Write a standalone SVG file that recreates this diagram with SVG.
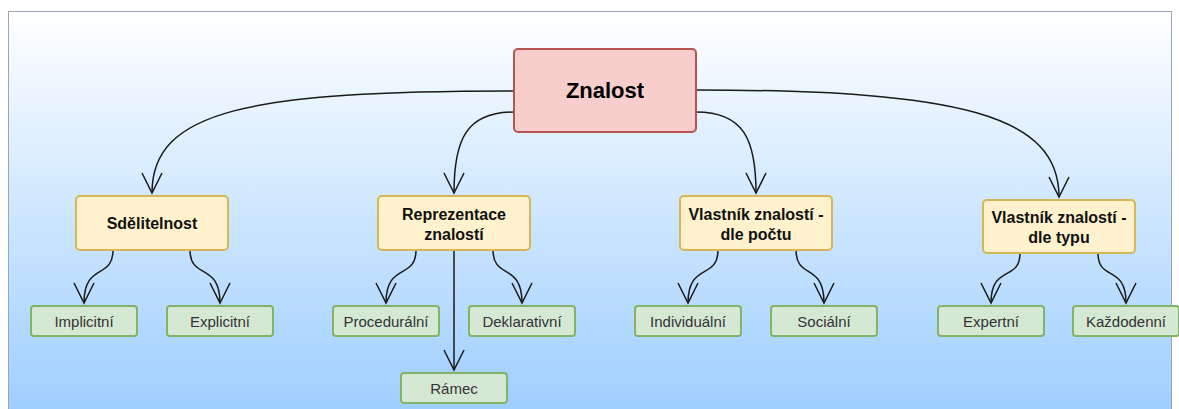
<svg xmlns="http://www.w3.org/2000/svg" width="1179" height="409" viewBox="0 0 1179 409">
  <defs>
    <linearGradient id="bg" x1="0" y1="0" x2="0" y2="1">
      <stop offset="0" stop-color="#ffffff"/>
      <stop offset="1" stop-color="#99ccff"/>
    </linearGradient>
    <marker id="open" markerUnits="userSpaceOnUse" markerWidth="22" markerHeight="22" viewBox="0 0 22 22" refX="21" refY="11" orient="auto" overflow="visible">
      <path d="M1,1 L21,11 L1,21" fill="none" stroke="#1a1a1a" stroke-width="1.5" stroke-linejoin="miter"/>
    </marker>
    <style>
      .root rect { fill: #f8cecc; stroke: #b85450; stroke-width: 2; }
      .mid rect { fill: #fff2cc; stroke: #d6b656; stroke-width: 2; }
      .leaf rect { fill: #d5e8d4; stroke: #82b366; stroke-width: 2; }
      text { font-family: "Liberation Sans", Arial, sans-serif; text-anchor: middle; }
      .root text { font-size: 22px; font-weight: bold; fill: #000; }
      .mid text { font-size: 16px; font-weight: bold; fill: #111; }
      .leaf text { font-size: 15px; fill: #333; }
      #edges path { fill: none; stroke: #1a1a1a; stroke-width: 1.5; marker-end: url(#open); }
    </style>
  </defs>

  <!-- background panel -->
  <rect x="8.5" y="11.5" width="1163" height="420" fill="url(#bg)" stroke="#9aa5b5" stroke-width="1"/>

  <g id="edges">
    <path d="M514,91 C250,91 152,110 152,193"/>
    <path d="M514,112 C466,112 454,140 454,193"/>
    <path d="M696,112 C744,112 756,140 756,193"/>
    <path d="M696,90 C960,90 1059,115 1059,197"/>
    <path d="M113,250 C113,280 84,262 84,303"/>
    <path d="M190,250 C190,280 220,262 220,303"/>
    <path d="M416,250 C416,280 386,262 386,303"/>
    <path d="M454,250 L454,370"/>
    <path d="M493,250 C493,280 522,262 522,303"/>
    <path d="M718,250 C718,280 688,262 688,303"/>
    <path d="M796,250 C796,280 824,262 824,303"/>
    <path d="M1020,253 C1020,282 991,264 991,303"/>
    <path d="M1098,253 C1098,282 1126,264 1126,303"/>
  </g>

  <g id="znalost" class="root">
    <rect x="514" y="49" width="182" height="83" rx="4"/>
    <text x="605" y="98">Znalost</text>
  </g>

  <g id="sdelitelnost" class="mid">
    <rect x="76" y="196" width="152" height="54" rx="4"/>
    <text x="152" y="229">Sdělitelnost</text>
  </g>
  <g id="reprezentace" class="mid">
    <rect x="378" y="196" width="152" height="54" rx="4"/>
    <text x="454" y="220">Reprezentace</text>
    <text x="454" y="240">znalostí</text>
  </g>
  <g id="dle-poctu" class="mid">
    <rect x="680" y="196" width="152" height="54" rx="4"/>
    <text x="756" y="220">Vlastník znalostí -</text>
    <text x="756" y="240">dle počtu</text>
  </g>
  <g id="dle-typu" class="mid">
    <rect x="983" y="200" width="152" height="53" rx="4"/>
    <text x="1059" y="223">Vlastník znalostí -</text>
    <text x="1059" y="243">dle typu</text>
  </g>

  <g id="implicitni" class="leaf">
    <rect x="31" y="306" width="106" height="30" rx="3"/>
    <text x="84" y="327">Implicitní</text>
  </g>
  <g id="explicitni" class="leaf">
    <rect x="167" y="306" width="106" height="30" rx="3"/>
    <text x="220" y="327">Explicitní</text>
  </g>
  <g id="proceduralni" class="leaf">
    <rect x="333" y="306" width="106" height="30" rx="3"/>
    <text x="386" y="327">Procedurální</text>
  </g>
  <g id="deklarativni" class="leaf">
    <rect x="469" y="306" width="106" height="30" rx="3"/>
    <text x="522" y="327">Deklarativní</text>
  </g>
  <g id="ramec" class="leaf">
    <rect x="401" y="373" width="106" height="30" rx="3"/>
    <text x="454" y="394">Rámec</text>
  </g>
  <g id="individualni" class="leaf">
    <rect x="635" y="306" width="106" height="30" rx="3"/>
    <text x="688" y="327">Individuální</text>
  </g>
  <g id="socialni" class="leaf">
    <rect x="771" y="306" width="106" height="30" rx="3"/>
    <text x="824" y="327">Sociální</text>
  </g>
  <g id="expertni" class="leaf">
    <rect x="938" y="306" width="106" height="30" rx="3"/>
    <text x="991" y="327">Expertní</text>
  </g>
  <g id="kazdodenni" class="leaf">
    <rect x="1073" y="306" width="106" height="30" rx="3"/>
    <text x="1126" y="327">Každodenní</text>
  </g>
</svg>
